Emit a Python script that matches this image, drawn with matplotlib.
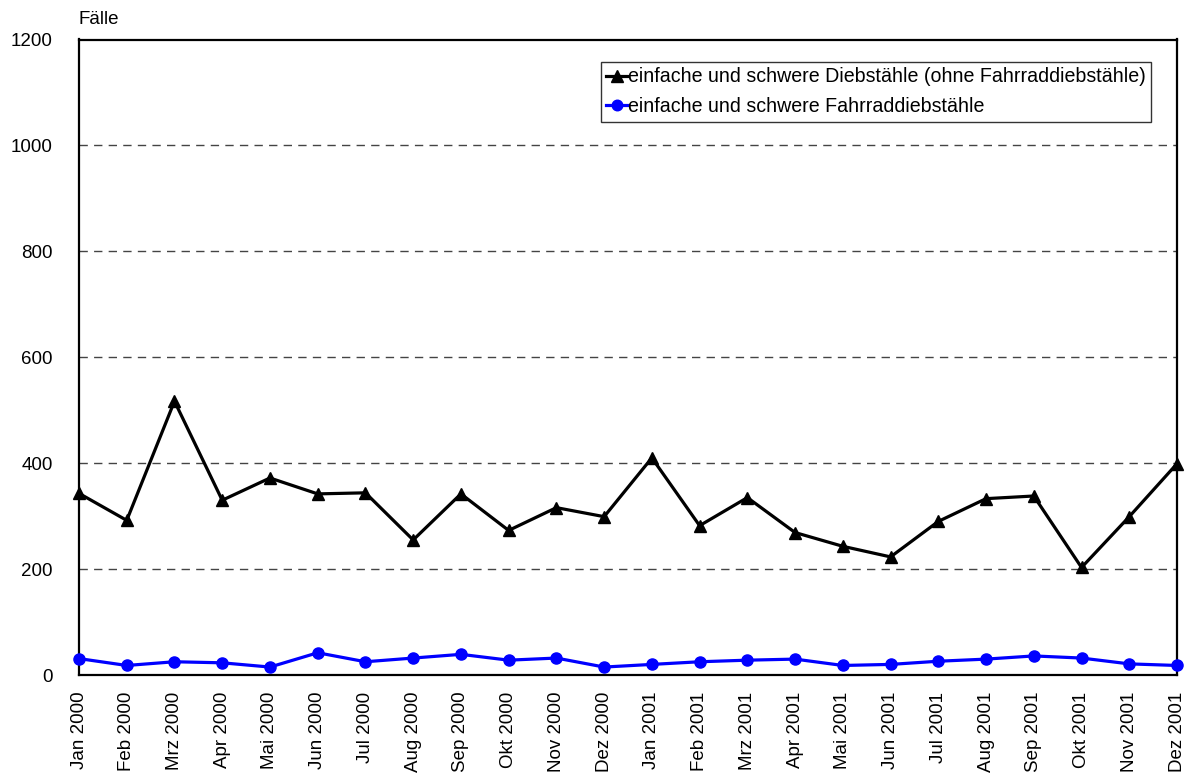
import matplotlib
matplotlib.use('Agg')
import matplotlib.pyplot as plt
import numpy as np

months = ['Jan', 'Feb', 'Mrz', 'Apr', 'Mai', 'Jun', 'Jul', 'Aug', 'Sep', 'Okt', 'Nov', 'Dez']
labels = [m + ' 2000' for m in months] + [m + ' 2001' for m in months]

diebstahl = [343, 292, 517, 330, 372, 342, 344, 255, 342, 273, 316, 299,
             410, 282, 335, 269, 243, 223, 290, 333, 338, 203, 299, 399]
fahrrad = [31, 18, 25, 23, 15, 42, 25, 32, 39, 28, 32, 15,
           20, 25, 28, 30, 18, 20, 26, 30, 36, 32, 21, 18]

plt.rcParams['font.family'] = ['Liberation Sans', 'DejaVu Sans']
fs = 13.5

fig = plt.figure(figsize=(11.95, 7.76), dpi=100)
ax = fig.add_axes([79/1195, 1 - 675/776, (1177 - 79)/1195, (675 - 39.5)/776])

x = np.arange(len(labels))
ax.plot(x, diebstahl, color='black', linewidth=2.3, marker='^', markersize=8.5,
        label='einfache und schwere Diebstähle (ohne Fahrraddiebstähle)', clip_on=False, zorder=3)
ax.plot(x, fahrrad, color='blue', linewidth=2.3, marker='o', markersize=8,
        label='einfache und schwere Fahrraddiebstähle', clip_on=False, zorder=3)

ax.set_xlim(0, len(labels) - 1)
ax.set_ylim(0, 1200)
ax.set_yticks(range(0, 1201, 200))
ax.set_xticks(x)
ax.set_xticklabels(labels, rotation=90, fontsize=fs)
ax.tick_params(axis='y', labelsize=fs, length=0, pad=19)
ax.tick_params(axis='x', length=0, pad=12)

for v in range(200, 1200, 200):
    ax.axhline(v, color='#444444', linestyle=(0, (6, 4.5)), linewidth=1.0, zorder=1)

for s in ax.spines.values():
    s.set_linewidth(1.6)
    s.set_color('black')

fig.text(79/1195, 1 - 20/776, 'Fälle', fontsize=fs, va='center', ha='left')

leg = ax.legend(loc='upper left', bbox_to_anchor=((601 - 79)/1098, (675 - 62)/635.5),
                fontsize=fs + 0.6, handlelength=1.1, handletextpad=0.0, borderpad=0.28,
                labelspacing=0.55, fancybox=False, frameon=True, borderaxespad=0,
                markerscale=0.95)
leg.get_frame().set_edgecolor('black')
leg.get_frame().set_linewidth(1.0)

fig.savefig('out.png', dpi=100)
